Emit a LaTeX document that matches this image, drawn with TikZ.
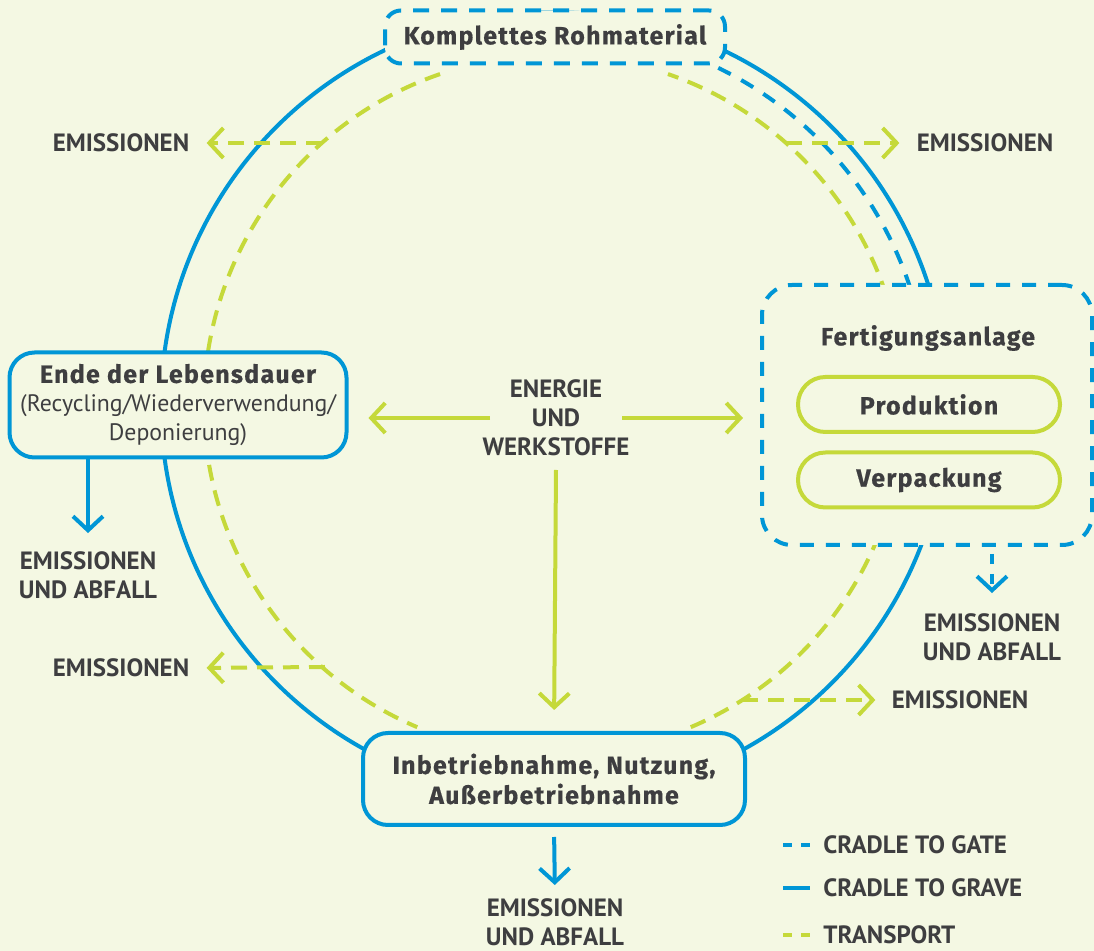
\documentclass[tikz,border=0pt]{standalone}
\usepackage{fontspec}
\setmainfont{PT Sans}
\newfontfamily\boxfont{Fira Sans}[LetterSpace=5, FakeBold=0.6]
\usetikzlibrary{arrows.meta}

\definecolor{lcblue}{RGB}{0,150,214}
\definecolor{lcgreen}{RGB}{197,217,58}
\definecolor{lcbg}{RGB}{244,248,227}
\definecolor{lctext}{RGB}{62,62,64}

\tikzset{
  grave/.style={lcblue, line width=2pt},
  gate/.style={lcblue, line width=2pt, dash pattern=on 7pt off 6pt},
  transport/.style={lcgreen, line width=2pt, dash pattern=on 8pt off 5pt},
  chevron/.style={-{Straight Barb[length=7pt, width=15pt]}},
  caps/.style={text=lctext, font=\bfseries\fontsize{12.5}{14.5}\selectfont, align=center, inner sep=0pt},
  stage/.style={draw=lcblue, line width=2pt, fill=lcbg, text=lctext, align=center, inner sep=0pt},
  step box/.style={draw=lcgreen, line width=2pt, fill=lcbg, text=lctext, inner sep=0pt,
    minimum width=131pt, minimum height=27.5pt, rounded corners=13.7pt,
    font=\boxfont\bfseries\fontsize{12.5}{15}\selectfont}
}

\begin{document}
\begin{tikzpicture}[x=0.5pt, y=0.5pt]
  \fill[lcbg] (0,0) rectangle (1094,-951);
  \useasboundingbox (0,0) rectangle (1094,-951);

  \coordinate (mid) at (554,-405);

  % lebenszyklus
  \draw[grave] (mid) circle[radius=393];
  \draw[gate] (mid) ++(68:375) arc[start angle=68, end angle=15, radius=375];
  \draw[transport] (mid) ++(109:350) arc[start angle=109, end angle=247, radius=350];
  \draw[transport] (mid) ++(293:350) arc[start angle=293, end angle=431, radius=350];

  % emissionen am transport
  \coordinate (eTL) at (322,-143);
  \coordinate (eTR) at (786,-143);
  \coordinate (eBL) at (325,-667);
  \coordinate (eBR) at (742,-700);
  \node[caps] (emTL) at (121,-143) {EMISSIONEN};
  \node[caps] (emTR) at (985,-143) {EMISSIONEN};
  \node[caps] (emBL) at (121,-668) {EMISSIONEN};
  \node[caps] (emBR) at (960,-700) {EMISSIONEN};
  \draw[transport, chevron, shorten >=8.5pt] (eTL) -- (emTL.east);
  \draw[transport, chevron, shorten >=8.5pt] (eTR) -- (emTR.west);
  \draw[transport, chevron, shorten >=8.5pt] (eBL) -- (emBL.east);
  \draw[transport, chevron, shorten >=8pt] (eBR) -- (emBR.west);

  % stationen
  \node[stage, dash pattern=on 8pt off 6pt, minimum width=170pt, minimum height=26.5pt,
    rounded corners=8pt, font=\boxfont\bfseries\fontsize{12.5}{15}\selectfont]
    (roh) at (555,-37) {Komplettes Rohmaterial};
  \node[stage, minimum width=168.5pt, minimum height=52.5pt, rounded corners=12.5pt,
    font=\fontsize{11.9}{14.5}\selectfont]
    (ende) at (178,-405) {{\boxfont\bfseries\fontsize{12.5}{14.5}\selectfont Ende der Lebensdauer}\\(Recycling/Wiederverwendung/\\Deponierung)};
  \node[stage, dash pattern=on 7pt off 6pt, minimum width=165pt, minimum height=130pt,
    rounded corners=15pt] (fert) at (927,-415) {};
  \node[text=lctext, font=\boxfont\bfseries\fontsize{12.5}{15}\selectfont] (fertTitle) at (928,-338) {Fertigungsanlage};
  \node[step box] (prod) at (929,-404.5) {Produktion};
  \node[step box] (verp) at (929,-480) {Verpackung};
  \node[stage, minimum width=191pt, minimum height=46pt, rounded corners=12.5pt,
    font=\boxfont\bfseries\fontsize{12.5}{15}\selectfont]
    (inb) at (554,-779) {Inbetriebnahme, Nutzung,\\Außerbetriebnahme};

  % energie und werkstoffe
  \node[caps] (energie) at (556,-418) {ENERGIE\\UND\\WERKSTOFFE};
  \draw[lcgreen, line width=2pt, chevron, shorten >=10pt] ([xshift=-33pt]energie.center) -- (energie.center -| ende.east);
  \draw[lcgreen, line width=2pt, chevron, shorten >=8.5pt] ([xshift=33pt]energie.center) -- (energie.center -| fert.west);
  \draw[lcgreen, line width=2pt, chevron, shorten >=10.5pt] ([yshift=-26pt]energie.center) -- (inb.north);

  % emissionen und abfall
  \node[caps] (abfEnde) at (88,-575) {EMISSIONEN\\UND ABFALL};
  \node[caps] (abfFert) at (992,-637) {EMISSIONEN\\UND ABFALL};
  \node[caps] (abfInb) at (555,-922) {EMISSIONEN\\UND ABFALL};
  \draw[grave, chevron, shorten >=9pt] (ende.south -| abfEnde) -- (abfEnde.north);
  \draw[gate, dash pattern=on 5pt off 5pt, chevron, shorten <=3.5pt, shorten >=10pt] (fert.south -| abfFert) -- (abfFert.north);
  \draw[grave, chevron, shorten <=5pt, shorten >=6.5pt] (inb.south) -- (abfInb.north);

  % legende
  \node[caps, anchor=west] (lgGate) at (823,-845) {CRADLE TO GATE};
  \node[caps, anchor=west] (lgGrave) at (823,-888) {CRADLE TO GRAVE};
  \node[caps, anchor=west] (lgTrans) at (823,-935) {TRANSPORT};
  \draw[gate, dash pattern=on 4.5pt off 4.5pt] ([xshift=-20pt]lgGate.west) -- ++(13.5pt,0);
  \draw[grave] ([xshift=-20pt]lgGrave.west) -- ++(13.5pt,0);
  \draw[transport, dash pattern=on 4.5pt off 4.5pt] ([xshift=-20pt]lgTrans.west) -- ++(13.5pt,0);
\end{tikzpicture}
\end{document}
